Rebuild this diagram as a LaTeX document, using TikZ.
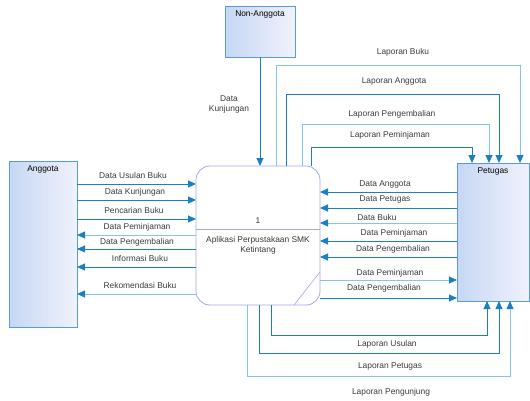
\documentclass[tikz,border=0pt]{standalone}
\usepackage{fontspec}
\setmainfont{Liberation Sans}
\usetikzlibrary{arrows.meta}
\definecolor{flowd}{HTML}{1A80C4}
\definecolor{flowdb}{HTML}{1B81C5}
\definecolor{flowdc}{HTML}{197FC3}
\definecolor{flowdd}{HTML}{1C7FC4}
\definecolor{flowl}{HTML}{86C4E8}
\definecolor{boxline}{HTML}{5B9BD5}
\definecolor{boxa}{HTML}{C6D7F4}
\definecolor{boxb}{HTML}{F0F2FD}
\definecolor{procline}{HTML}{A4A6F0}
\definecolor{txt}{HTML}{3A3A3A}
\begin{document}
\begin{tikzpicture}[x=1pt, y=-1pt, font=\fontsize{8.4}{10}\selectfont, line join=miter,
	ext/.style={draw=boxline, line width=0.8pt, left color=boxa, right color=boxb, inner sep=0pt, outer sep=0pt},
	proc/.style={draw=procline, line width=0.8pt, fill=white, rounded corners=14pt, inner sep=0pt, outer sep=0pt},
	flow/.style={draw=flowd, line width=0.9pt, -{Triangle[length=8pt,width=7pt,color=flowd]}},
	flowlt/.style={draw=flowl, line width=0.9pt, -{Triangle[length=8pt,width=7pt,color=flowd]}},
	lbl/.style={text=txt, inner sep=1pt},
	head/.style={text=black, inner sep=1pt, anchor=north, yshift=-3.5pt}]
		\useasboundingbox (0,0) rectangle (530,400);
		% entities and process
		\node[ext, minimum width=70pt, minimum height=51pt] (nonang) at (260,31.5) {};
		\node[ext, minimum width=68pt, minimum height=166pt] (anggota) at (43,244) {};
		\node[ext, minimum width=72pt, minimum height=138pt] (petugas) at (493,232) {};
		\node[proc, minimum width=124pt, minimum height=139pt] (app) at (258,235.5) {};
		\draw[procline, line width=0.8pt] (app.west |- 0,229) -- (app.east |- 0,229);
		\draw[procline, line width=0.6pt] (app.east |- 0,272) -- (app.south -| 294,0);
		% non-anggota
		\draw[flow] (nonang.south) -- (nonang.south |- app.north);
		% anggota
		\draw[flow] (anggota.east |- 0,184) -- (app.west |- 0,184);
		\draw[flow] (anggota.east |- 0,200) -- (app.west |- 0,200);
		\draw[flow] (anggota.east |- 0,219) -- (app.west |- 0,219);
		\draw[flowlt] (app.west |- 0,235) -- (anggota.east |- 0,235);
		\draw[flow] (app.west |- 0,249) -- (anggota.east |- 0,249);
		\draw[flow] (app.west |- 0,267) -- (anggota.east |- 0,267);
		\draw[flowlt] (app.west |- 0,294) -- (anggota.east |- 0,294);
		% petugas
		\draw[flow] (petugas.west |- 0,192) -- (app.east |- 0,192);
		\draw[flow] (petugas.west |- 0,208) -- (app.east |- 0,208);
		\draw[flowlt] (petugas.west |- 0,223) -- (app.east |- 0,223);
		\draw[flow] (petugas.west |- 0,241) -- (app.east |- 0,241);
		\draw[flow] (petugas.west |- 0,257) -- (app.east |- 0,257);
		\draw[flowlt] (app.east |- 0,280) -- (petugas.west |- 0,280);
		\draw[flow] (app.east |- 0,298) -- (petugas.west |- 0,298);
		% laporan atas
		\draw[flowlt] (app.north -| 276,0) -- (276,65) -- (520,65) -- (petugas.north -| 520,0);
		\draw[flow] (app.north -| 286,0) -- (286,94) -- (499,94) -- (petugas.north -| 499,0);
		\draw[flowlt] (app.north -| 302,0) -- (302,124) -- (489,124) -- (petugas.north -| 489,0);
		\draw[flow, draw=flowdb] (app.north -| 311,0) -- (311,147) -- (472,147) -- (petugas.north -| 472,0);
		% laporan bawah
		\draw[flow, draw=flowdc] (app.south -| 271,0) -- (271,335) -- (487,335) -- (petugas.south -| 487,0);
		\draw[flow, draw=flowdd] (app.south -| 259,0) -- (259,353) -- (499,353) -- (petugas.south -| 499,0);
		\draw[flowlt] (app.south -| 247,0) -- (247,376) -- (510,376) -- (petugas.south -| 510,0);
		% texts
		\node[head] (nonangtxt) at (nonang.north) {Non-Anggota};
		\node[head] (anggotatxt) at (anggota.north) {Anggota};
		\node[head] (petugastxt) at (petugas.north) {Petugas};
		\node[lbl] (appno) at (258,221) {1};
		\node[lbl, align=center] (appname) at (258,245) {Aplikasi Perpustakaan SMK\\Ketintang};
		\node[lbl, align=center] (dk) at (229,104) {Data\\Kunjungan};
		\node[lbl] (a1) at (133,175) {Data Usulan Buku};
		\node[lbl] (a2) at (135,192) {Data Kunjungan};
		\node[lbl] (a3) at (134,210) {Pencarian Buku};
		\node[lbl] (a4) at (137,227) {Data Peminjaman};
		\node[lbl] (a5) at (137,242) {Data Pengembalian};
		\node[lbl] (a6) at (140,258) {Informasi Buku};
		\node[lbl] (a7) at (140,285) {Rekomendasi Buku};
		\node[lbl] (p1) at (385,184) {Data Anggota};
		\node[lbl] (p2) at (385,199) {Data Petugas};
		\node[lbl] (p3) at (377,217) {Data Buku};
		\node[lbl] (p4) at (394,233) {Data Peminjaman};
		\node[lbl] (p5) at (393,249) {Data Pengembalian};
		\node[lbl] (p6) at (390,273) {Data Peminjaman};
		\node[lbl] (p7) at (384,288) {Data Pengembalian};
		\node[lbl] (r1) at (403,52) {Laporan Buku};
		\node[lbl] (r2) at (394,81) {Laporan Anggota};
		\node[lbl] (r3) at (392,114) {Laporan Pengembalian};
		\node[lbl] (r4) at (390,135) {Laporan Peminjaman};
		\node[lbl] (r5) at (387,344) {Laporan Usulan};
		\node[lbl] (r6) at (390,366) {Laporan Petugas};
		\node[lbl] (r7) at (391,392) {Laporan Pengunjung};
\end{tikzpicture}
\end{document}
